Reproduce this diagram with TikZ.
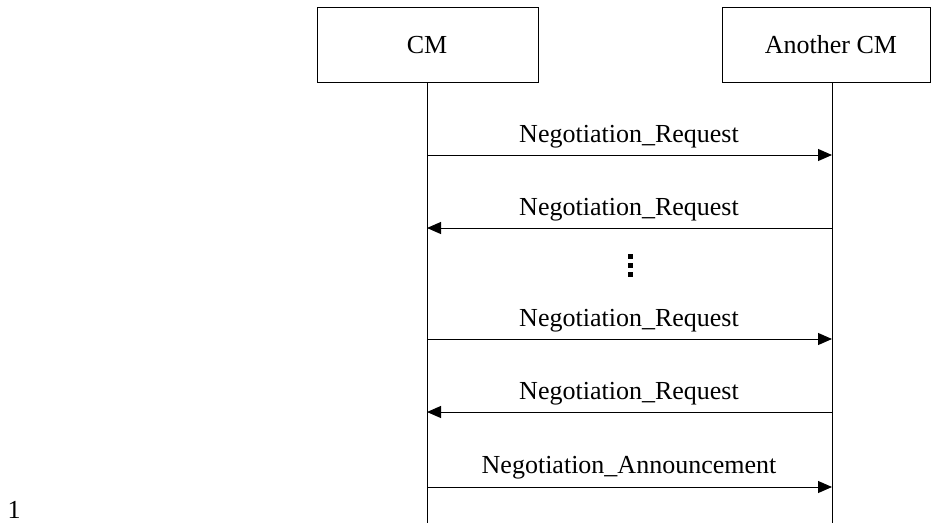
\documentclass[tikz,border=0pt]{standalone}
\usepackage{fontspec}
\setmainfont{Liberation Serif}
\usetikzlibrary{arrows.meta}
\begin{document}
\begin{tikzpicture}[x=1pt,y=-1pt,
  every node/.style={font=\fontsize{26}{31}\selectfont, inner sep=0pt},
  actorbox/.style={draw, line width=1pt},
  lifeline/.style={line width=1pt},
  msg/.style={line width=1pt, -{Triangle[length=14pt,width=12pt]}},
  msglabel/.style={anchor=base},
  dotsq/.style={fill=black, minimum size=5pt}]
\useasboundingbox (0,0) rectangle (931,523);
% actor boxes
\draw[actorbox] (317,7.5) rectangle (538,82);
\draw[actorbox] (722,7.5) rectangle (930,82);
\node (cm) at (427,45) {CM};
\node (acm) at (831,45) {Another CM};
\coordinate (cmtop) at (427,82);
\coordinate (cmbot) at (427,523);
\coordinate (acmtop) at (832,82);
\coordinate (acmbot) at (832,523);
\draw[lifeline] (cmtop) -- (cmbot);
\draw[lifeline] (acmtop) -- (acmbot);
% message endpoints
\foreach \n/\y in {1/155,2/228,3/339,4/412,5/487}{
  \coordinate (l\n) at (427,\y);
  \coordinate (r\n) at (832,\y);
}
\draw[msg] (l1) -- (r1);
\draw[msg] (r2) -- (l2);
\draw[msg] (l3) -- (r3);
\draw[msg] (r4) -- (l4);
\draw[msg] (l5) -- (r5);
\node[msglabel] (t1) at (629,142) {Negotiation\_Request};
\node[msglabel] (t2) at (629,215) {Negotiation\_Request};
\node[msglabel] (t3) at (629,326) {Negotiation\_Request};
\node[msglabel] (t4) at (629,399) {Negotiation\_Request};
\node[msglabel] (t5) at (629,473) {Negotiation\_Announcement};
% vertical dots
\node[dotsq] (d1) at (630,256) {};
\node[dotsq] (d2) at (630,265) {};
\node[dotsq] (d3) at (630,274) {};
% page number
\node[anchor=base] (pg) at (14,518) {1};
\end{tikzpicture}
\end{document}
